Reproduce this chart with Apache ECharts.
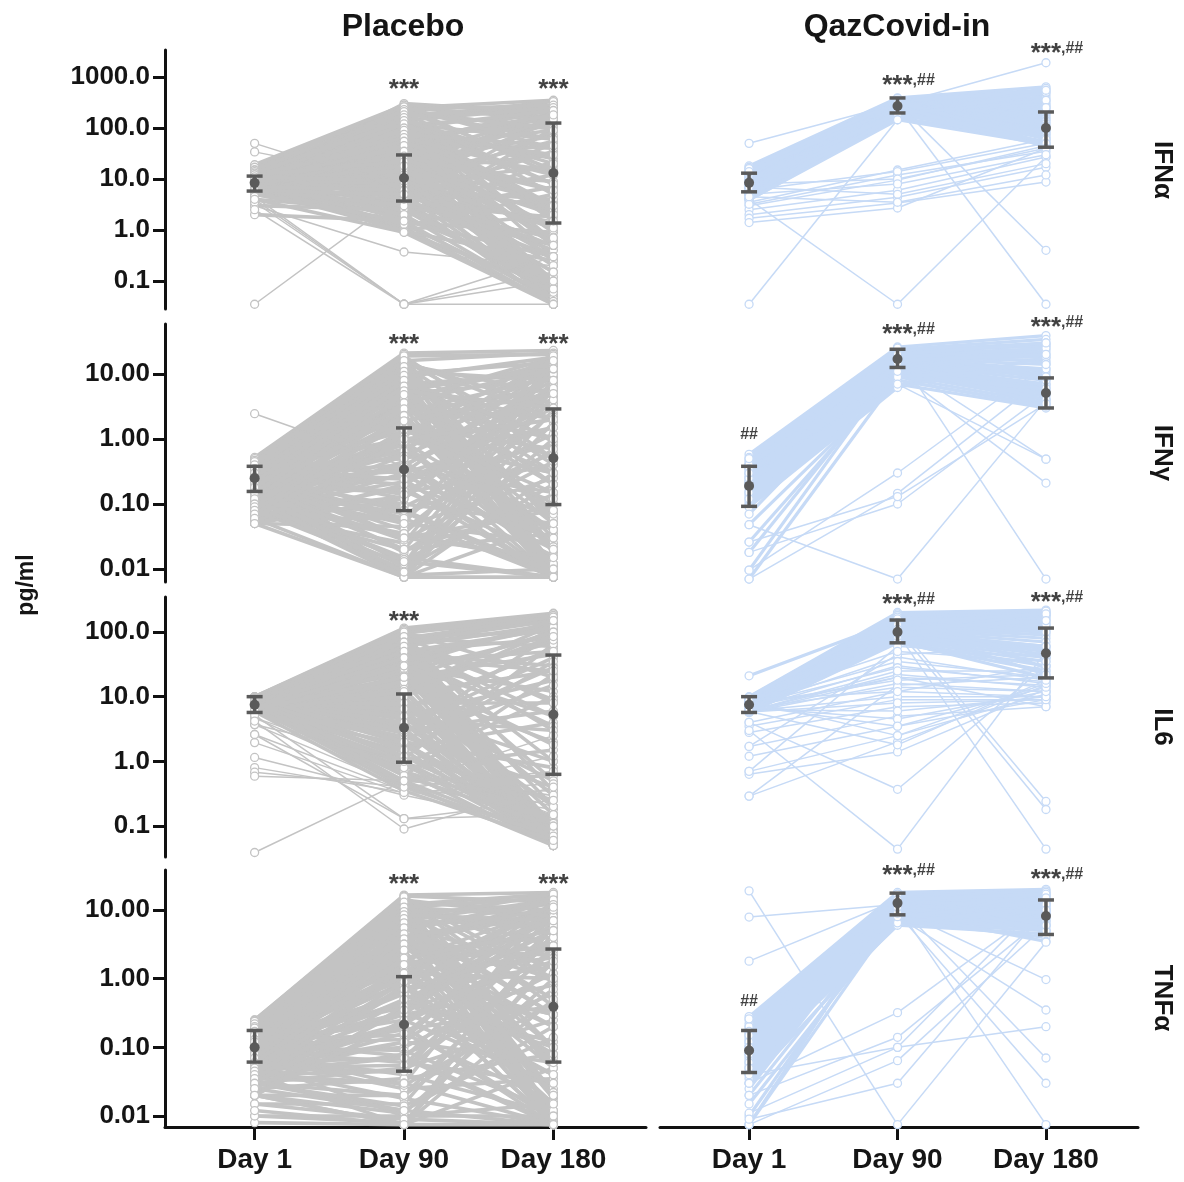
<!DOCTYPE html>
<html>
<head>
<meta charset="utf-8">
<title>Cytokines</title>
<script src="https://cdn.jsdelivr.net/npm/echarts@6/dist/echarts.min.js"></script>
<style>
html,body{margin:0;padding:0;background:#fff;}
#chart{width:1184px;height:1182px;}
</style>
</head>
<body>
<div id="chart"></div>
<script>
// categories
const days = ['Day 1', 'Day 90', 'Day 180'];
const groups = ['Placebo', 'QazCovid-in'];
const cytokines = ['IFNα', 'IFNγ', 'IL6', 'TNFα'];

// y tick values per row
const rowTicks = [[1000, 100, 10, 1, 0.1], [10, 1, 0.1, 0.01], [100, 10, 1, 0.1], [10, 1, 0.1, 0.01]];
const rowDecimals = [1, 2, 1, 2];

// each subject: [day1, day90, day180] pg/ml
// main mass of subjects
const placeboIFNa = [
[9,300,200],[18,250,350],[14,220,60],[12,190,0.05],[10,170,260],[8,150,8],[13,130,0.3],[7,115,180],[15,100,25],[9,90,0.04],
[6,80,2],[11,72,110],[10,64,150],[8,56,0.1],[13,50,40],[7,45,6],[16,40,280],[9,36,0.6],[5,32,15],[12,29,1.2],
[10,26,120],[8,23,0.035],[11,21,70],[6,19,3.5],[14,17,210],[9,15,0.2],[7,14,30],[13,13,9],[10,12,0.08],[8,11,55],
[11,10,2.5],[6,9,140],[12,8.5,0.15],[9,8,18],[7,7,300],[15,6.5,0.05],[10,6,4],[8,5.5,85],[5,5,0.4],[11,4.5,35],
[13,4,0.035],[7,3.8,12],[9,3.5,170],[6,3.2,1.8],[10,3,0.7],[12,2.8,50],[8,2.5,0.06],[4,2.2,7],[11,2,22],[7,1.8,0.12],
[9,1.6,100],[5,1.4,0.9],[10,1.2,5],[8,1.1,0.035],[6,1,2],[7,0.95,0.25],[4,0.9,0.08],
[9,240,0.045],[13,180,0.07],[11,160,330],[10,110,3],[12,68,0.5],
[8,48,250],[14,34,0.04],[7,27,190],[9,20,0.045],[11,14,160],[6,7.5,0.09],[10,210,95],[16,270,12],[8,200,0.6],[12,85,2.2],
[19,280,230],[3,2.5,0.5],[2,1.5,0.3],[17,120,0.07],[15,60,0.04],
[10,280,0.035],[12,260,0.04],[9,230,0.05],[11,200,0.06],[8,175,0.045],[13,155,0.035],[10,135,0.08],[14,125,0.05],[9,105,0.04],[11,95,0.035],
[7,88,0.06],[12,78,0.045],[8,62,0.035],[10,52,0.05],[6,43,0.07],[11,38,0.035],[9,30,0.04],[7,24,0.05],[12,18,0.035],[8,16,0.06],
[10,250,150],[13,230,280],[8,190,200],[11,140,250],[9,120,60],[15,200,100],[7,100,220],[12,80,30],[6,60,180],[10,40,90],
[9,2,0.04],[7,1.3,0.05],[8,0.9,0.035],[11,5,0.045],[6,3,0.06],[10,8,0.04],[5,1.5,0.035],[12,4,0.3],[7,6,0.15],[14,10,0.07],
[9,260,40],[11,230,15],[8,210,5],[12,180,1.5],[10,160,0.5],[13,140,20],[9,120,8],[7,100,2.5],[11,90,0.9],[10,75,45],
[8,65,12],[12,55,3],[9,45,1],[7,35,0.25],[10,28,6],[12,22,0.7],[8,18,2],[9,12,0.3],[11,9,1.1],[6,5,0.5]
];
// scattered subjects
const placeboIFNaOther = [[50,6,3],[34,9,0.5],[3,0.37,0.2],[3.5,0.035,0.3],[4.5,0.035,0.1],[4,0.035,0.035],[0.035,5,1.5],[2.5,0.035,0.15]];

const qazIFNa = [
[18,390,640],[17,370,560],[16,360,500],[15,350,450],[14,340,400],[13.5,330,360],[13,320,330],[12,310,300],[11.5,300,280],[11,295,260],
[10.5,290,240],[10,285,220],[9.5,280,200],[9,275,190],[8.5,270,175],[8,265,160],[7.5,260,150],[7,255,140],[6.8,250,130],[6.5,245,120],
[6,240,110],[5.8,235,100],[5.5,230,95],[5.2,225,90],[5,220,85],[4.8,210,80],[4.5,200,75],[4.2,190,70],[4,180,65],[3.9,160,55],
[3.9,145,48],[12,380,42],[8,150,600],[10,200,45],[7,350,50],[16,320,60],[5,170,500],[14,260,45],[6,330,550],[9,190,350]
];
const qazIFNaOther = [
[50,300,1900],[0.035,145,250],[4,0.035,27],[7,260,0.035],[9,300,0.4],[3.5,15,60],[3,9.5,45],[2.5,6,27],[2,4.4,17],[1.7,3.4,8.7],[1.4,2.7,40],[3.2,12,35],
[6,14,50],[8,10,40],[5,8,30],[7,5,20],[4.5,3.5,12]
];

const placeboIFNg = [
[0.52,21,23],[0.45,15,3],[0.4,12,0.01],[0.38,10,15],[0.35,8,0.5],[0.3,7,10],[0.28,6,0.03],[0.25,5,8],[0.42,4.5,0.2],[0.22,4,18],
[0.2,3.5,1],[0.33,3,0.008],[0.18,2.5,6],[0.3,2,0.1],[0.15,1.8,12],[0.26,1.5,0.04],[0.12,1.2,4],[0.36,1,0.3],[0.1,0.9,2],[0.24,0.8,0.0075],
[0.2,0.7,9],[0.14,0.6,0.06],[0.32,0.5,1.5],[0.08,0.45,0.015],[0.27,0.4,5],[0.17,0.35,0.15],[0.4,0.3,14],[0.11,0.28,0.02],[0.22,0.25,0.8],[0.3,0.2,3],
[0.06,0.18,0.0075],[0.19,0.15,0.4],[0.35,0.12,7],[0.13,0.1,0.05],[0.25,0.09,1.2],[0.09,0.08,0.009],[0.2,0.07,0.6],[0.28,0.06,11],[0.16,0.05,0.025],[0.05,0.045,0.25],
[0.23,0.04,2.5],[0.1,0.035,0.012],[0.3,0.03,0.08],[0.07,0.025,16],[0.18,0.02,0.035],[0.26,0.018,0.7],[0.12,0.015,0.0075],[0.21,0.012,4.5],[0.08,0.01,0.2],[0.15,0.008,0.01],
[0.06,0.0075,1.8],[0.34,0.0075,0.05],[0.2,0.0075,6],[0.05,0.0075,0.0075],[0.44,14,0.4],[0.37,9,0.0075],[0.29,16,0.9],[0.24,11,0.06],[0.31,6.5,0.018],
[0.19,5.5,13],[0.27,3.8,0.009],[0.16,2.8,2.2],[0.33,1.3,10],[0.21,0.65,19],[0.13,0.38,8],[0.09,0.22,3.5],[0.07,0.13,12],[0.25,0.055,5.5],[0.17,0.028,0.45],
[0.11,0.014,0.14],[0.28,17,0.011],[0.39,13,0.022],[0.2,2.2,0.0075],[0.14,0.95,0.3],[0.23,0.32,0.04],[0.18,0.16,0.016],[0.3,0.075,0.008],[0.12,0.011,1],[0.26,4,0.07],
[0.48,19,20],[0.43,18,0.0075],
[0.5,20,0.0075],[0.46,18,0.01],[0.42,16,21],[0.4,14,5],[0.37,12,0.0075],[0.34,10,0.3],[0.3,9,18],[0.28,7.5,0.02],[0.25,6,2],[0.22,5,0.0075],
[0.2,4.2,15],[0.18,3.2,0.05],[0.16,2.6,9],[0.14,2,0.0075],[0.12,1.6,0.7],[0.1,1.1,20],[0.09,0.85,0.012],[0.08,0.55,6],[0.07,0.42,0.0075],[0.06,0.3,1.5],
[0.05,0.2,0.03],[0.05,0.12,10],[0.06,0.06,0.0075],[0.07,0.035,4],[0.08,0.02,0.1],[0.09,0.012,13],[0.1,0.0075,0.3],[0.12,0.0075,17],[0.15,0.009,2.8],[0.17,0.013,0.0075],
[0.2,0.02,8],[0.23,0.03,0.015],[0.26,0.05,19],[0.29,0.08,0.0075],[0.32,0.14,6],[0.35,0.24,0.0075],[0.38,0.5,16],[0.41,0.9,0.04],[0.44,2.4,0.0075],[0.47,6,12],
[0.45,19,0.5],[0.4,16,2],[0.35,13,0.05],[0.3,11,8],[0.26,9.5,0.2],[0.22,8,1],[0.18,6.5,0.01],[0.15,5.5,3],[0.12,4.8,0.08],[0.1,3.6,12],
[0.09,2.9,0.3],[0.08,2.3,0.02],[0.07,1.9,5],[0.06,1.4,0.15],[0.05,1,2]
];
const placeboIFNgOther = [[2.45,0.38,0.12]];

const qazIFNg = [
[0.58,26,39],[0.52,24,34],[0.48,23,30],[0.45,22,27],[0.42,21,24],[0.4,20,22],[0.37,19.5,20],[0.35,19,18],[0.33,18,16],[0.3,17.5,14],
[0.28,17,12],[0.26,16.5,11],[0.25,16,10],[0.23,15,9],[0.22,14.5,8],[0.2,14,7],[0.19,13,6.5],[0.18,12.5,6],[0.16,12,5.5],[0.15,11,5],
[0.14,10.5,4.5],[0.13,10,4],[0.12,9,3.6],[0.11,8,3.3],[0.1,7,3],[0.095,6.5,28],[0.09,6.2,18],[0.048,8,3.2],[0.026,10,5],[0.018,12,7],
[0.0096,14,4],[0.007,9,6],[0.3,22,9],[0.2,18,25],[0.4,13,3.5],[0.15,24,15],[0.5,25,8],[0.12,20,30],[0.22,9,12],[0.07,16,20]
];
const qazIFNgOther = [[0.0096,0.3,14],[0.007,0.146,9],[0.018,0.1,5],[0.048,0.007,4],[0.35,15,0.49],[0.25,11,0.21],[0.2,20,0.007],[0.026,0.13,3.5],[0.3,7,0.49]];

const placeboIL6 = [
[10,115,195],[9.6,100,150],[9.2,92,0.05],[9.8,85,100],[8.6,80,60],[9,70,0.058],[8,65,120],[9.3,60,5],[7.5,55,0.075],[8.8,50,80],
[7,45,30],[9.5,40,0.1],[6.5,35,140],[8.1,32,0.065],[7.8,28,12],[6.2,25,90],[9.1,22,0.15],[7.2,20,45],[8.3,18,0.3],[6.8,16,70],
[9.7,14,2],[7.1,12,0.05],[6.3,11,25],[8.6,10,110],[7.4,9,0.2],[5.9,8,8],[9.2,7,0.5],[6.6,6.5,55],[8,6,1],[7.7,5.5,0.09],
[6,5,18],[9.4,4.5,3],[7,4,0.12],[5.8,3.6,40],[8.2,3.2,0.06],[6.9,3,6],[9.8,2.7,95],[7.3,2.4,0.4],[6.4,2.2,15],[8.7,2,0.8],
[5.7,1.8,0.055],[7.6,1.6,4],[6.1,1.4,35],[9,1.2,0.25],[8.4,1.1,65],[7,1,0.07],[6.7,0.9,10],[5.9,0.8,1.5],[8.1,0.7,0.14],[7.5,0.6,22],
[6.4,0.5,0.6],[9.4,75,160],[8.9,58,0.065],[7.9,42,3.5],[8.5,30,0.09],[7.2,15,75],
[9.8,8.5,0.055],[6.5,2.8,28],[8.7,1.9,0.11],[7.8,24,1.8],[6.9,48,0.2],[9.1,88,0.35],[8.3,66,9],[7.4,13,130],[8,3.8,0.075],[9.6,35,50],
[10,100,170],[9.9,95,0.06],
[9.9,110,0.05],[9.5,98,0.06],[9.1,90,0.055],[8.7,78,0.05],[8.3,68,0.07],[7.9,62,0.05],[7.5,52,0.06],[7.1,46,0.05],[6.7,38,0.08],[6.3,33,0.055],
[6,27,0.05],[5.8,21,0.065],[6.2,17,0.05],[6.6,13,0.06],[7,10,0.05],[7.4,8,0.07],[7.8,6.5,0.055],[8.2,5,0.05],[8.6,4,0.06],[9,3,0.05],
[9.4,105,190],[9,95,180],[8.6,80,170],[8.2,70,150],[7.8,60,130],[7.4,50,110],[7,40,120],[6.6,30,150],[6.2,20,100],[5.9,12,85],
[9.7,2,0.06],[8.8,1.5,0.05],[7.9,1.2,0.08],[7,0.9,0.055],[6.1,0.7,0.05],[9.3,0.6,0.1],[8.4,0.5,0.065],[7.6,0.45,0.05],[6.8,0.4,0.07],[5.9,0.35,0.06],
[9.2,100,20],[8.8,85,8],[8.4,70,3],[8,60,1],[7.6,50,0.5],[7.2,40,25],[6.8,30,5],[6.4,20,0.3]
];
const placeboIL6Other = [
[4.7,0.45,2.5],[3.7,0.4,0.18],[2.6,0.35,1.2],[1.95,0.32,0.35],[1.15,0.3,0.1],[0.8,0.33,0.45],[0.68,0.4,0.7],[0.59,0.5,0.3],[4.7,0.8,0.2],
[3.7,1,0.15],[0.039,0.5,0.3],[5.2,0.13,0.25],[4.2,0.09,0.4],[2.6,0.13,0.15]
];

const qazIL6 = [
[10,200,218],[9.8,190,200],[9.5,180,190],[9.2,170,180],[9,160,170],[8.8,150,160],[8.6,145,150],[8.4,140,140],[8.2,135,130],[8,130,120],
[7.8,125,110],[7.6,120,100],[7.4,115,90],[7.2,110,80],[7,105,70],[6.8,100,60],[6.6,95,55],[6.4,90,50],[6.2,85,45],[6,80,40],
[5.9,75,35],[5.8,70,30],[5.7,68,25],[5.7,72,19.5],[9,90,200],[21,150,180],[6,180,28],[8,75,130],[7,120,22],[9.4,100,60],
[9.7,170,100],[8.9,85,210],[6.4,160,40],[7.3,140,190],[5.9,110,150]
];
const qazIL6Other = [
[7,41,18],[6.5,30,16],[6,22,14],[5.8,16,12],[4,12,10],[3.5,9,9],[2.8,7,8],[1.7,5,7],[1.2,3.5,9],[0.7,2.5,11],[0.63,1.4,13],[0.29,2,15],[4,0.37,30],[3,0.044,50],
[8.5,130,0.24],[7.5,110,0.18],[6.2,95,0.044],[1.7,45,60],[0.7,60,40],[5.8,20,7],[0.29,15,20],
[8,35,20],[7.5,28,17],[7,20,15],[6.5,14,12],[6,10,10],[5.8,8,9],[6.2,6,10],[6.8,4.5,12],[7.2,3.5,14],[8.5,2.5,16],[5.9,1.8,18],[6,25,25],[7.8,18,22],[9,12,30],[8.8,50,35]
];

const placeboTNFa = [
[0.25,16.5,18],[0.23,13,10],[0.22,12,0.01],[0.2,11,8],[0.24,10,0.5],[0.18,9,12],[0.21,8,0.02],[0.16,7,6],[0.19,6,0.1],[0.15,5,15],
[0.14,4.5,1],[0.22,4,0.008],[0.12,3.5,9],[0.17,3,0.05],[0.11,2.5,4],[0.2,2,0.2],[0.1,1.8,11],[0.13,1.5,0.015],[0.09,1.2,2],[0.18,1,0.3],
[0.08,0.9,7],[0.15,0.8,0.0075],[0.07,0.7,1.5],[0.12,0.6,0.04],[0.06,0.5,5],[0.1,0.45,0.12],[0.14,0.4,13],[0.05,0.35,0.025],[0.09,0.3,0.8],[0.11,0.25,3],
[0.045,0.2,0.009],[0.08,0.18,0.4],[0.13,0.15,10],[0.04,0.12,0.06],[0.07,0.1,1.2],[0.1,0.09,0.012],[0.035,0.08,0.6],[0.06,0.07,8],[0.09,0.06,0.03],[0.03,0.05,0.25],
[0.05,0.045,2.5],[0.08,0.04,0.011],[0.025,0.035,0.08],[0.04,0.03,14],[0.07,0.025,0.035],[0.02,0.02,0.7],[0.05,0.018,0.0075],[0.015,0.015,4.5],[0.03,0.012,0.2],[0.06,0.01,0.01],
[0.01,0.008,1.8],[0.02,0.0075,0.05],[0.008,0.0075,6],[0.04,0.0075,0.0075],[0.01,0.01,0.015],[0.24,14,0.4],[0.2,9.5,0.008],[0.17,12.5,0.9],[0.14,11,0.06],[0.19,6.5,0.018],
[0.12,5.5,13],[0.16,3.8,0.009],[0.1,2.8,2.2],[0.21,1.3,10],[0.08,0.65,16],[0.13,0.38,8],[0.06,0.22,3.5],[0.11,0.13,12],[0.05,0.055,5.5],[0.09,0.028,0.45],
[0.03,0.014,0.14],[0.22,14.5,0.011],[0.18,12,0.022],[0.07,2.2,0.0075],[0.15,0.95,0.3],[0.1,0.32,0.04],[0.04,0.16,0.016],[0.12,0.075,0.008],[0.02,0.011,1],[0.16,4,0.07],
[0.25,15,0.0075],[0.24,13.5,2],[0.23,12,17],[0.22,10.5,0.05],[0.21,9,5],[0.2,8,0.0075],[0.19,7,14],[0.18,6,0.3],[0.17,5,0.0075],[0.16,4.2,9],
[0.15,3.5,0.02],[0.14,2.8,16],[0.13,2.2,0.0075],[0.12,1.7,3],[0.11,1.3,0.01],[0.1,1.1,12],[0.09,0.85,0.0075],[0.08,0.6,6],[0.07,0.45,0.04],[0.06,0.3,11],
[0.055,0.2,0.0075],[0.05,0.12,4],[0.045,0.07,0.0075],[0.04,0.045,9],[0.035,0.03,0.0075],[0.03,0.02,3],[0.025,0.012,0.0075],[0.02,0.0075,2],[0.015,0.009,0.0075],[0.012,0.0075,0.5],
[0.23,16,13],[0.2,14,8],[0.17,11,15],[0.14,9,6],[0.11,7.5,17],[0.08,5.5,10],[0.06,3,14],[0.04,1.5,7],[0.03,0.8,12],[0.02,0.4,5],
[0.24,15.5,1],[0.22,13,0.1],[0.2,11,3],[0.19,9.5,0.02],[0.17,8.5,7],[0.15,7.5,0.3],[0.13,6.5,0.012],[0.12,5.5,1.5],[0.1,4.5,0.06],[0.09,3.8,11],
[0.08,3.2,0.2],[0.07,2.6,0.01],[0.06,2,5],[0.05,1.6,0.08],[0.045,1.2,1],[0.04,0.9,0.015],[0.035,0.7,3],[0.03,0.5,0.1],[0.025,0.35,1.8],[0.02,0.25,0.03]
];
const placeboTNFaOther = [];

const qazTNFa = [
[0.28,18,20],[0.25,17,19],[0.22,16,18],[0.2,15,17],[0.18,14,16],[0.16,13.5,15],[0.15,13,14],[0.14,12.5,13],[0.13,12,12],[0.12,11.5,11],
[0.11,11,10],[0.1,10.5,9],[0.09,10,8.5],[0.085,9.5,8],[0.08,9,7.5],[0.075,8.5,7],[0.07,8,6.5],[0.065,7.5,6],[0.06,7,5.5],[0.055,6.5,5],
[0.05,6,4.5],[0.045,7,4],[0.04,9,3.5],[0.035,11,12],[0.03,13,16],[0.025,15,6],[0.02,10,9],[0.015,8,14],[0.01,12,5],[0.0075,14,10],
[0.0075,9,7],[0.2,16,5],[0.12,7,18],[0.26,12,9],[0.17,8,13],[0.1,17,6],[0.05,14,17],[0.03,6.5,11]
];
const qazTNFaOther = [[19,0.0075,3.4],[7.9,12,10],[1.8,14,8],[0.03,0.32,12],[0.02,0.14,8],[0.011,0.1,15],[0.0075,0.064,6],[0.009,0.03,10],[0.15,10,0.97],[0.1,8,0.35],[0.08,12,0.07],[0.06,9,0.03],[0.05,11,0.0075],[0.04,0.1,0.2]];

// mean with error range per day: [mean, low, high]
const meansPlaceboIFNa = [[8.4, 5.8, 11.4], [10.5, 3.7, 29.6], [13.1, 1.37, 125]];
const meansQazIFNa = [[8.4, 5.6, 13], [270, 197, 388], [100, 42, 206]];
const meansPlaceboIFNg = [[0.25, 0.156, 0.38], [0.34, 0.079, 1.48], [0.51, 0.098, 2.9]];
const meansQazIFNg = [[0.19, 0.092, 0.38], [17, 12.6, 24], [5.1, 3, 8.7]];
const meansPlaceboIL6 = [[7.5, 5.7, 10], [3.3, 0.97, 11], [5.3, 0.63, 44]];
const meansQazIL6 = [[7.5, 5.7, 10], [100, 68, 153], [47, 19.5, 115]];
const meansPlaceboTNFa = [[0.1, 0.061, 0.176], [0.215, 0.045, 1.07], [0.39, 0.061, 2.7]];
const meansQazTNFa = [[0.09, 0.043, 0.176], [12.6, 8.5, 17.6], [8.2, 4.4, 14]];

// significance marks: [day, value, text]
const annPlaceboIFNa = [[2, 556, '***'], [3, 556, '***']];
const annQazIFNa = [[2, 667, '***,##'], [3, 2825, '***,##']];
const annPlaceboIFNg = [[2, 27.9, '***'], [3, 27.9, '***']];
const annQazIFNg = [[1, 1.15, '##'], [2, 39.8, '***,##'], [3, 51, '***,##']];
const annPlaceboIL6 = [[2, 143, '***']];
const annQazIL6 = [[2, 261, '***,##'], [3, 281, '***,##']];
const annPlaceboTNFa = [[2, 23.1, '***'], [3, 23.1, '***']];
const annQazTNFa = [[1, 0.457, '##'], [2, 31.3, '***,##'], [3, 27.4, '***,##']];

// layout
const rowTop = [50, 324, 597, 870];
const rowHeight = [259, 258, 260, 257];
const rowMin = [0.02825, 0.00631, 0.0332, 0.00692];
const rowMax = [3381, 58.75, 347.5, 38.23];
const colLeft = [165, 660];
const colWidth = [481, 478];
const colColor = ['#c3c3c3', '#c6daf6'];
const colLineWidth = [3.6, 3.2];
const otherLineWidth = 1.5;
const FONT = '"Liberation Sans", Arial, Helvetica, sans-serif';

const panels = [
  { r: 0, c: 0, subj: placeboIFNa, other: placeboIFNaOther, means: meansPlaceboIFNa, ann: annPlaceboIFNa },
  { r: 0, c: 1, subj: qazIFNa, other: qazIFNaOther, means: meansQazIFNa, ann: annQazIFNa },
  { r: 1, c: 0, subj: placeboIFNg, other: placeboIFNgOther, means: meansPlaceboIFNg, ann: annPlaceboIFNg },
  { r: 1, c: 1, subj: qazIFNg, other: qazIFNgOther, means: meansQazIFNg, ann: annQazIFNg },
  { r: 2, c: 0, subj: placeboIL6, other: placeboIL6Other, means: meansPlaceboIL6, ann: annPlaceboIL6 },
  { r: 2, c: 1, subj: qazIL6, other: qazIL6Other, means: meansQazIL6, ann: annQazIL6 },
  { r: 3, c: 0, subj: placeboTNFa, other: placeboTNFaOther, means: meansPlaceboTNFa, ann: annPlaceboTNFa },
  { r: 3, c: 1, subj: qazTNFa, other: qazTNFaOther, means: meansQazTNFa, ann: annQazTNFa }
];

function tag(t) {
  if (t === '***') return '{s|***}';
  if (t === '##') return '{h|##}';
  return '{s|***}{h|,##}';
}

function subjectLines(i, data, color, lw) {
  return {
    type: 'custom', xAxisIndex: i, yAxisIndex: i, z: 2, silent: true, clip: false,
    data: data,
    renderItem: function (params, api) {
      const a = api.coord([1, api.value(0)]);
      const b = api.coord([2, api.value(1)]);
      const c = api.coord([3, api.value(2)]);
      return { type: 'polyline', shape: { points: [a, b, c] }, style: { stroke: color, lineWidth: lw, fill: null, lineJoin: 'round' } };
    }
  };
}

const grid = [], xAxis = [], yAxis = [], series = [];

panels.forEach(function (p, i) {
  grid.push({ left: colLeft[p.c], width: colWidth[p.c], top: rowTop[p.r], height: rowHeight[p.r], containLabel: false, outerBoundsMode: 'none' });
  const bottom = p.r === 3;
  xAxis.push({
    gridIndex: i, type: 'value', min: 0.4, max: 3.62, show: bottom,
    splitLine: { show: false },
    axisLine: { show: true, onZero: false, lineStyle: { color: '#111', width: 3 } },
    axisTick: { show: true, customValues: [1, 2, 3], length: 13, lineStyle: { color: '#111', width: 3 } },
    axisLabel: {
      show: true, customValues: [1, 2, 3], margin: 19,
      formatter: function (v) { return days[Math.round(v) - 1]; },
      fontFamily: FONT, fontWeight: 'bold', fontSize: 28, color: '#151515'
    }
  });
  const dec = rowDecimals[p.r];
  yAxis.push({
    gridIndex: i, type: 'log', logBase: 10, min: rowMin[p.r], max: rowMax[p.r], show: p.c === 0,
    splitLine: { show: false },
    axisLine: { show: true, onZero: false, lineStyle: { color: '#111', width: 3 } },
    axisTick: { show: true, customValues: rowTicks[p.r], length: 12, lineStyle: { color: '#111', width: 3 } },
    axisLabel: {
      show: true, customValues: rowTicks[p.r], margin: 15,
      formatter: function (v) { return Number(v).toFixed(dec); },
      fontFamily: FONT, fontWeight: 'bold', fontSize: 26, color: '#151515'
    }
  });

  const color = colColor[p.c];
  series.push(subjectLines(i, p.subj, color, colLineWidth[p.c]));
  series.push(subjectLines(i, p.other, color, otherLineWidth));
  // subject points
  const pts = [];
  p.subj.concat(p.other).forEach(function (s) { pts.push([1, s[0]], [2, s[1]], [3, s[2]]); });
  series.push({
    type: 'scatter', xAxisIndex: i, yAxisIndex: i, z: 3, silent: true, clip: false,
    symbol: 'circle', symbolSize: 8,
    itemStyle: { color: '#ffffff', borderColor: color, borderWidth: 1.3, opacity: 1 },
    data: pts
  });
  // mean and error range
  series.push({
    type: 'custom', xAxisIndex: i, yAxisIndex: i, z: 4, silent: true, clip: false,
    data: p.means.map(function (m, k) { return [k + 1, m[0], m[1], m[2]]; }),
    encode: { x: 0, y: [1, 2, 3] },
    renderItem: function (params, api) {
      const x = api.value(0);
      const m = api.coord([x, api.value(1)]);
      const lo = api.coord([x, api.value(2)]);
      const hi = api.coord([x, api.value(3)]);
      const w = 8, st = { stroke: '#5a5a5a', lineWidth: 3.5 };
      return {
        type: 'group', children: [
          { type: 'line', shape: { x1: lo[0], y1: lo[1], x2: hi[0], y2: hi[1] }, style: st },
          { type: 'line', shape: { x1: hi[0] - w, y1: hi[1], x2: hi[0] + w, y2: hi[1] }, style: st },
          { type: 'line', shape: { x1: lo[0] - w, y1: lo[1], x2: lo[0] + w, y2: lo[1] }, style: st },
          { type: 'circle', shape: { cx: m[0], cy: m[1], r: 5 }, style: { fill: '#5a5a5a' } }
        ]
      };
    }
  });
  // significance marks
  series.push({
    type: 'scatter', xAxisIndex: i, yAxisIndex: i, z: 5, silent: true, clip: false,
    symbol: 'circle', symbolSize: 0,
    data: p.ann.map(function (a) {
      return { value: [a[0], a[1]], name: a[2], label: { offset: a[2] === '***,##' ? [11, 0] : [0, 0] } };
    }),
    label: {
      show: true, position: 'inside',
      formatter: function (d) { return tag(d.name); },
      rich: {
        s: { fontFamily: FONT, fontWeight: 'bold', fontSize: 26, color: '#111' },
        h: { fontFamily: FONT, fontWeight: 'bold', fontSize: 16, color: '#111', verticalAlign: 'top' }
      }
    }
  });
});

const textStyle = function (txt, size) {
  return { text: txt, fontFamily: FONT, fontWeight: 'bold', fontSize: size, fill: '#151515', align: 'center', verticalAlign: 'middle' };
};
const rowLabelY = [170, 453, 727, 998];
const graphic = [
  { type: 'text', x: 403, y: 27, style: textStyle(groups[0], 32) },
  { type: 'text', x: 897, y: 27, style: textStyle(groups[1], 32) },
  { type: 'text', x: 27, y: 585, rotation: Math.PI / 2, style: textStyle('pg/ml', 23) }
];
cytokines.forEach(function (name, r) {
  graphic.push({ type: 'text', x: 1162, y: rowLabelY[r], rotation: -Math.PI / 2, style: textStyle(name, 26) });
});

const chart = echarts.init(document.getElementById('chart'), null, { renderer: 'canvas' });
chart.setOption({
  backgroundColor: '#ffffff',
  animation: false,
  grid: grid,
  xAxis: xAxis,
  yAxis: yAxis,
  series: series,
  graphic: graphic
});
</script>
</body>
</html>
